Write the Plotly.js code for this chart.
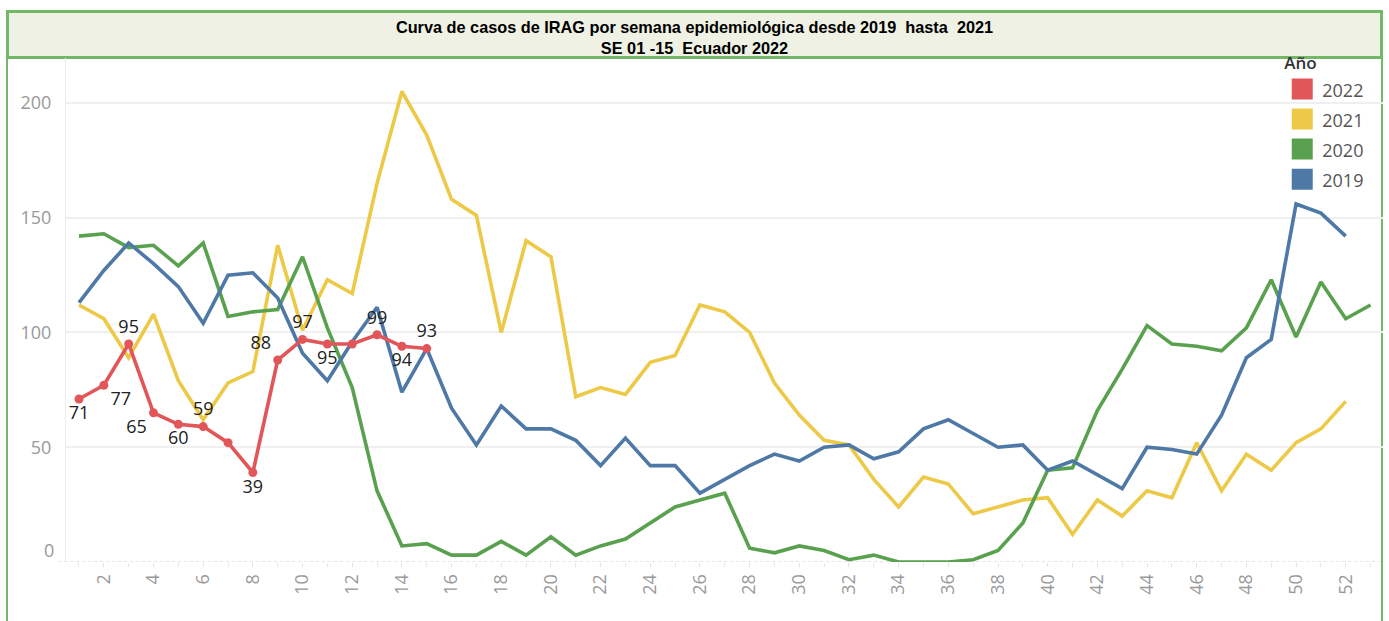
<!DOCTYPE html>
<html>
<head>
<meta charset="utf-8">
<script src="https://cdn.plot.ly/plotly-3.0.1.min.js"></script>
<style>
  html, body { margin: 0; padding: 0; background: #ffffff; }
  #wrap { position: relative; width: 1389px; height: 621px; overflow: hidden; }
  #titlebox { position: absolute; left: 6px; top: 10px; width: 1377px; height: 49px; box-sizing: border-box;
              border: 3px solid #72b866; background: #eef1e3; }
  #frame { position: absolute; left: 6px; top: 58px; width: 1377px; height: 570px; box-sizing: border-box;
           border-left: 2px solid #72b866; border-right: 2px solid #72b866; }
  #chart { position: absolute; left: 0; top: 0; width: 1389px; height: 621px; }
</style>
</head>
<body>
<div id="wrap">
  <div id="frame"></div>
  <div id="titlebox"></div>
  <div id="chart"></div>
</div>
<script>
// ---- data ----
const weeks = [1,2,3,4,5,6,7,8,9,10,11,12,13,14,15,16,17,18,19,20,21,22,23,24,25,26,
               27,28,29,30,31,32,33,34,35,36,37,38,39,40,41,42,43,44,45,46,47,48,49,50,51,52,53];
const seriesNames = ["2022", "2021", "2020", "2019"];

const cases2022 = [71,77,95,65,60,59,52,39,88,97,95,95,99,94,93];
const labels2022 = ["71","77","95","65","60","59","","39","88","97","95","","99","94","93"];

const cases2021 = [112,106,89,108,79,62,78,83,138,101,123,117,165,205,186,158,151,100,140,133,
                   72,76,73,87,90,112,109,100,78,64,53,51,36,24,37,34,21,24,27,28,
                   12,27,20,31,28,52,31,47,40,52,58,70];

const cases2020 = [142,143,137,138,129,139,107,109,110,133,102,76,31,7,8,3,3,9,3,11,
                   3,7,10,17,24,27,30,6,4,7,5,1,3,0,0,0,1,5,17,40,
                   41,66,84,103,95,94,92,102,123,98,122,106,112];

const cases2019 = [113,127,139,130,120,104,125,126,115,91,79,96,111,74,93,67,51,68,58,58,
                   53,42,54,42,42,30,36,42,47,44,50,51,45,48,58,62,56,50,51,40,
                   44,38,32,50,49,47,64,89,97,156,152,142];

const xTickVals = [2,4,6,8,10,12,14,16,18,20,22,24,26,28,30,32,34,36,38,40,42,44,46,48,50,52];
const yTickVals = [50,100,150,200];

// ---- style ----
const colors = { "2022": "#e15759", "2021": "#edc948", "2020": "#59a14f", "2019": "#4e79a7" };
const labelPos2022 = ["bottom center","bottom right","top center","bottom left","bottom center",
                      "top center","top center","bottom center","top left","top center",
                      "bottom center","top center","top center","bottom center","top center"];
const FONT = "Open Sans, Lato, sans-serif";

function lineTrace(name, ys) {
  return {
    type: "scatter", mode: "lines", name: name,
    x: weeks.slice(0, ys.length), y: ys,
    line: { color: colors[name], width: 3.6 },
    showlegend: false, hoverinfo: "x+y+name"
  };
}

const traces = [
  lineTrace("2021", cases2021),
  lineTrace("2020", cases2020),
  lineTrace("2019", cases2019),
  {
    type: "scatter", mode: "lines+markers+text", name: "2022",
    x: weeks.slice(0, cases2022.length), y: cases2022,
    text: labels2022, textposition: labelPos2022,
    textfont: { family: FONT, size: 18, color: "#222" },
    line: { color: colors["2022"], width: 3.6 },
    marker: { color: colors["2022"], size: 9 },
    showlegend: false, cliponaxis: false
  }
];

// legend entries (square swatches)
seriesNames.forEach(function (n) {
  traces.push({
    type: "scatter", mode: "markers", name: '<span style="font-size:18px">' + n + '</span>',
    x: [null], y: [null],
    marker: { symbol: "square", size: 22, color: colors[n], line: { color: colors[n], width: 5 } },
    showlegend: true, hoverinfo: "skip"
  });
});

const layout = {
  width: 1389, height: 621,
  margin: { l: 66, r: 6, t: 58, b: 59 },
  paper_bgcolor: "rgba(0,0,0,0)",
  plot_bgcolor: "rgba(0,0,0,0)",
  font: { family: FONT, color: "#888" },
  title: {
    text: "<b>Curva de casos de IRAG por semana epidemiológica desde 2019 \u00a0hasta \u00a02021<br>SE 01 -15 \u00a0Ecuador 2022</b>",
    font: { family: "Liberation Sans, Arial, sans-serif", size: 16.3, color: "#000" },
    x: 0.5, xanchor: "center", xref: "container",
    y: 1 - 33 / 621, yanchor: "middle", yref: "container"
  },
  xaxis: {
    range: [0.477, 53.5],
    tickmode: "array", tickvals: xTickVals, ticktext: xTickVals.map(String),
    tickangle: -90, tickfont: { family: FONT, size: 18, color: "#999" },
    ticks: "outside", ticklen: 4, tickcolor: "#e2e2e2",
    minor: { dtick: 1, tick0: 0, ticks: "outside", ticklen: 4, tickcolor: "#e6e6e6", showgrid: false },
    showgrid: false, zeroline: false, showline: false, fixedrange: true
  },
  yaxis: {
    range: [0, 219.6],
    tickmode: "array", tickvals: yTickVals, ticktext: yTickVals.map(String),
    tickfont: { family: FONT, size: 18, color: "#999" },
    ticks: "", ticklabelstandoff: 10,
    showgrid: true, gridcolor: "#efefef", gridwidth: 1.5,
    zeroline: false, showline: true, linecolor: "#ececec", linewidth: 1, fixedrange: true
  },
  shapes: [
    { type: "line", xref: "paper", yref: "y", x0: -0.006, x1: 1, y0: 0, y1: 0,
      line: { color: "#dcdcdc", width: 1.5, dash: "dot" }, layer: "below" }
  ],
  annotations: [
    { xref: "paper", yref: "y", x: 0, y: 0, xanchor: "right", yanchor: "middle",
      xshift: -10, yshift: 12, showarrow: false, text: "0",
      font: { family: FONT, size: 18, color: "#999" } }
  ],
  legend: {
    x: 0.9235, xanchor: "left", y: 1.022, yanchor: "top",
    bgcolor: "rgba(255,255,255,0)", borderwidth: 0,
    font: { family: FONT, size: 20.8, color: "#555" },
    title: { text: "Año", font: { family: FONT, size: 17, color: "#333", weight: 600 } },
    tracegroupgap: 0, itemclick: false, itemdoubleclick: false
  },
  showlegend: true,
  hovermode: "closest"
};

Plotly.newPlot("chart", traces, layout, { displayModeBar: false, staticPlot: false });
</script>
</body>
</html>
